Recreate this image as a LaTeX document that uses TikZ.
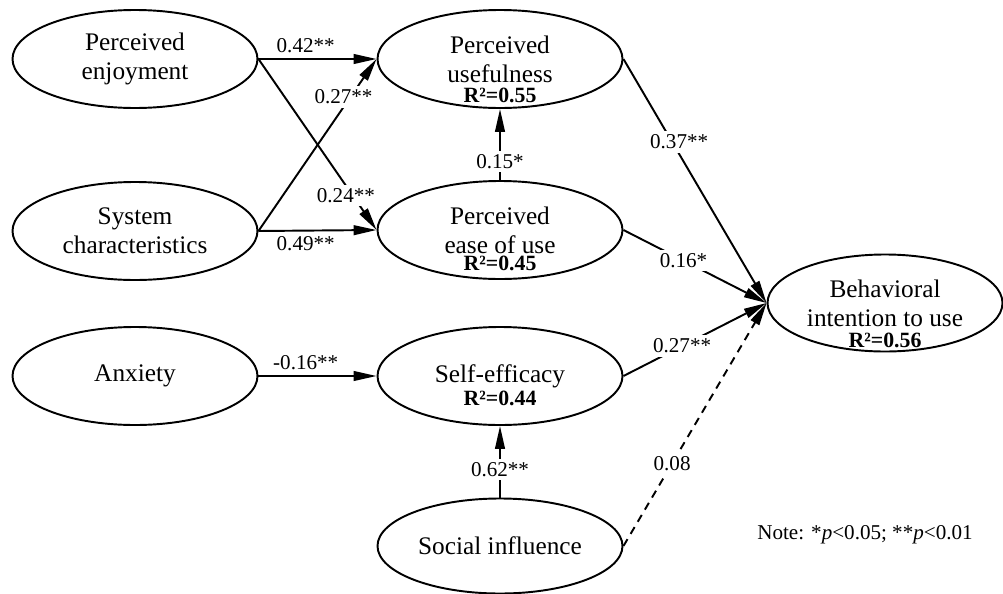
\documentclass[tikz,border=0pt]{standalone}
\usepackage{fontspec}
\setmainfont{Liberation Serif}
\usetikzlibrary{arrows.meta,shapes.geometric}

\tikzset{
  latent/.style={draw, ellipse, line width=1.1pt, minimum width=4.9cm, minimum height=1.96cm,
    inner sep=0pt, align=center, font=\fontsize{14.4}{16.5}\selectfont},
  rsq/.style={anchor=base, inner sep=0pt, font=\fontsize{12.4}{12.4}\selectfont\bfseries},
  coef/.style={inner sep=3pt, font=\fontsize{12}{12}\selectfont},
  onpath/.style={coef, fill=white, inner sep=2pt},
  effect/.style={draw, line width=1.1pt, -{Triangle[length=13pt,width=5.5pt]}},
}

\begin{document}
\begin{tikzpicture}
\useasboundingbox (0,0) rectangle (20.06,-11.86);

% constructs
\node[latent] (pe) at (2.70,-1.18) {Perceived\\enjoyment};
\node[latent] (sc) at (2.70,-4.62) {System\\characteristics};
\node[latent] (anx) at (2.70,-7.52) {Anxiety};

\node[latent] (pu) at (10.00,-1.18) {Perceived\\usefulness};
\node[latent] (peou) at (10.00,-4.60) {Perceived\\ease of use};
\node[latent] (se) at (10.00,-7.52) {Self-efficacy};
\node[latent, minimum height=1.90cm] (si) at (10.00,-10.92) {Social influence};

\node[latent, minimum width=4.7cm, minimum height=1.94cm] (bi) at (17.70,-6.06) {Behavioral\\intention to use};

% explained variance
\node[rsq] (pu-r2) at ([yshift=-0.86cm]pu.center) {R²=0.55};
\node[rsq] (peou-r2) at ([yshift=-0.80cm]peou.center) {R²=0.45};
\node[rsq] (se-r2) at ([yshift=-0.58cm]se.center) {R²=0.44};
\node[rsq] (bi-r2) at ([yshift=-0.88cm]bi.center) {R²=0.56};

% paths
\path[effect] (pe.east) -- node[coef, above, pos=0.4] {0.42**} (pu.west);
\path[effect] (pe.east) -- node[onpath, pos=0.8, xshift=-4pt] {0.24**} (peou.west);
\path[effect] (sc.east) -- node[onpath, pos=0.78, xshift=-4pt] {0.27**} (pu.west);
\path[effect] (sc.east) -- node[coef, below, pos=0.4] {0.49**} (peou.west);
\path[effect] (anx.east) -- node[coef, above, pos=0.4] {-0.16**} (se.west);

\path[effect] (peou.north) -- node[onpath, pos=0.26] {0.15*} (pu.south);
\path[effect] (si.north) -- node[onpath, pos=0.39] {0.62**} (se.south);

\path[effect] (pu.east) -- node[onpath, pos=0.34, xshift=4pt] {0.37**} (bi.west);
\path[effect] (peou.east) -- node[onpath, pos=0.42] {0.16*} (bi.west);
\path[effect] (se.east) -- node[onpath, pos=0.41] {0.27**} (bi.west);
\path[effect, dash pattern=on 4.5pt off 3.5pt] (si.east) -- node[onpath, pos=0.34] {0.08} (bi.west);

% note
\node[coef] (note) at (17.30,-10.70) {Note: *\textit{p}<0.05; **\textit{p}<0.01};
\end{tikzpicture}
\end{document}
